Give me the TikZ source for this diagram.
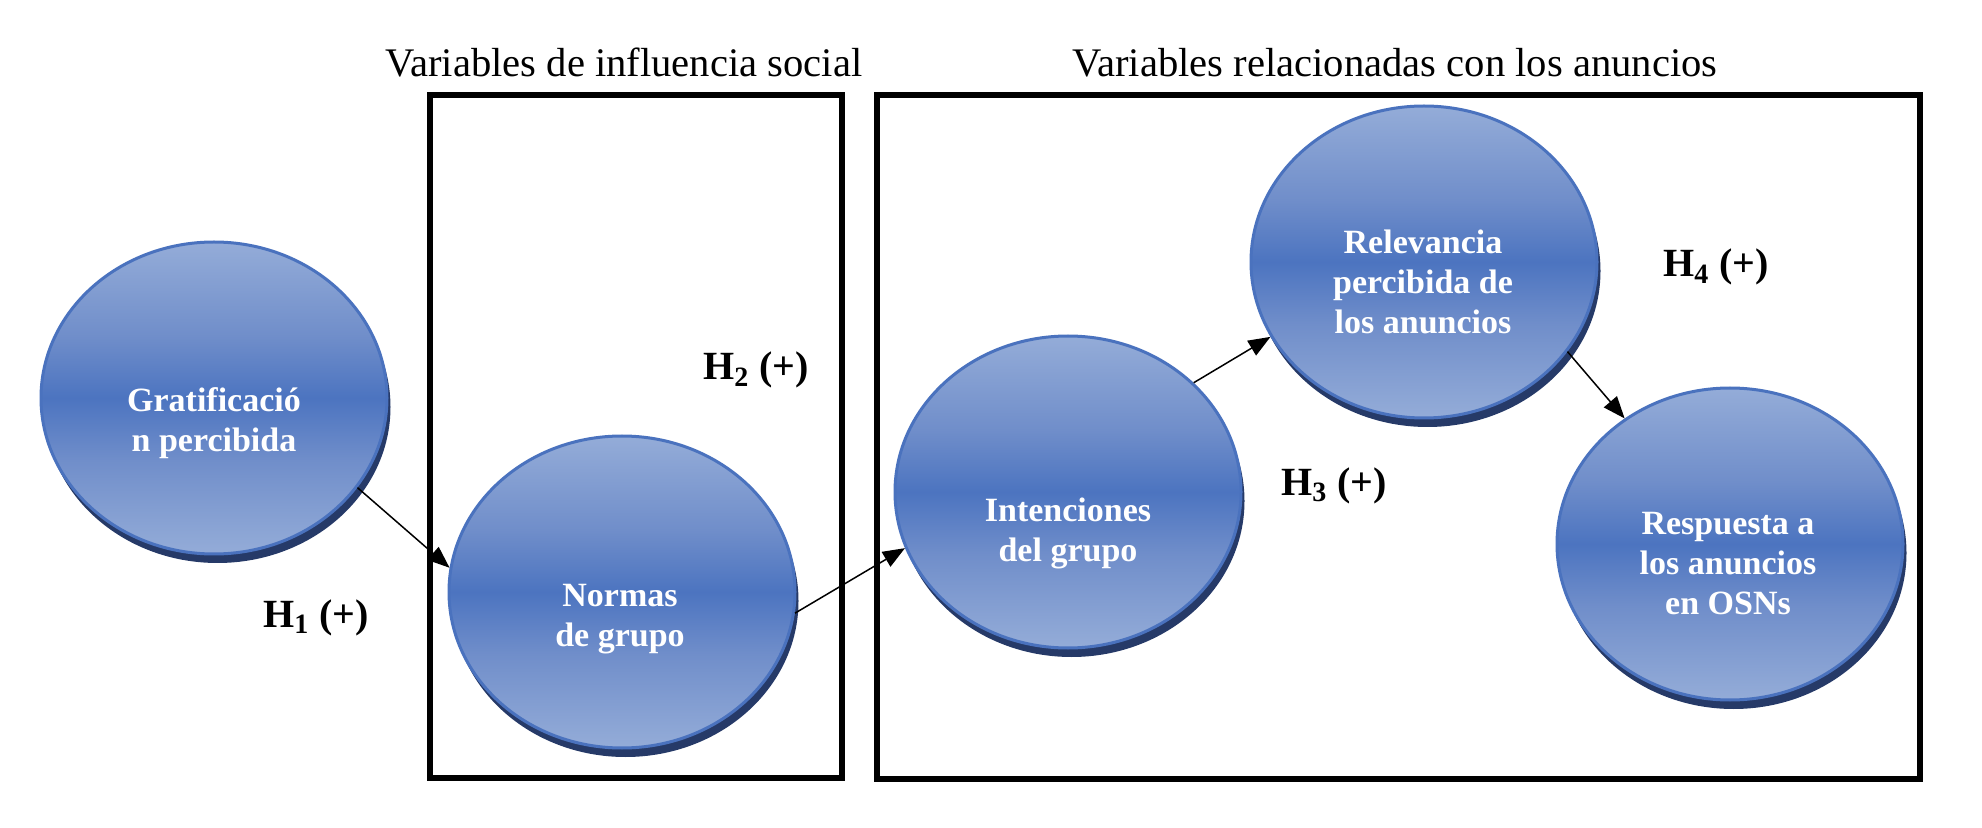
\documentclass[tikz,border=0pt]{standalone}
\usepackage{fontspec}
\setmainfont{Liberation Serif}
\usetikzlibrary{shapes.geometric,arrows.meta,shadows}
\definecolor{lb}{RGB}{148,172,216}
\definecolor{mb}{RGB}{112,142,202}
\definecolor{db}{RGB}{76,116,192}
\definecolor{bordc}{RGB}{74,114,190}
\definecolor{shadc}{RGB}{38,58,104}
\pgfdeclareverticalshading{ballshade}{100bp}{color(0bp)=(lb); color(25bp)=(lb); color(40bp)=(mb); color(50bp)=(db); color(60bp)=(mb); color(75bp)=(lb); color(100bp)=(lb)}
\tikzset{
 ball/.style={ellipse, draw=bordc, line width=1.5pt, shading=ballshade,
   minimum width=173pt, minimum height=156pt, inner sep=0pt,
   drop shadow={shadow xshift=1.75pt, shadow yshift=-4.5pt, fill=shadc, opacity=1}},
 balltext/.style={text=white, font=\bfseries\fontsize{17}{20}\selectfont, align=center, inner sep=0pt},
 hlab/.style={font=\bfseries\fontsize{20}{24}\selectfont, anchor=base, inner sep=0pt},
 ttl/.style={font=\fontsize{20.3}{24}\selectfont, anchor=base, inner sep=0pt},
 grpbox/.style={draw=black, line width=2.6pt, inner sep=0pt},
 conn/.style={-{Triangle[length=11pt,width=8.5pt]}, line width=0.75pt, black},
}
\begin{document}
\begin{tikzpicture}[x=0.5pt,y=-0.5pt]
\fill[white] (0,0) rectangle (1982,828);
\useasboundingbox (0,0) rectangle (1982,828);
% group boxes
\node[grpbox, minimum width=206pt, minimum height=341.5pt] (box1) at (636,436.5) {};
\node[grpbox, minimum width=521.5pt, minimum height=342pt] (box2) at (1398.5,437) {};
% titles
\node[ttl] (t1) at (624,77) {Variables de influencia social};
\node[ttl] (t2) at (1395,77) {Variables relacionadas con los anuncios};
% ellipses
\node[ball] (grat) at (214,398) {};
\node[ball] (norm) at (622,592) {};
\node[ball] (inten) at (1068,492) {};
\node[ball] (relev) at (1424,262) {};
\node[ball] (resp) at (1730,544) {};
% ellipse texts
\node[balltext] (gratt) at (214,423) {Gratificació\\n percibida};
\node[balltext] (normt) at (620,619) {Normas\\de grupo};
\node[balltext] (intent) at (1068,533) {Intenciones\\del grupo};
\node[balltext] (relevt) at (1423,282) {Relevancia\\percibida de\\los anuncios};
\node[balltext] (respt) at (1728,564) {Respuesta a\\los anuncios\\en OSNs};
% hypothesis labels
\node[hlab] (h1) at (316,627) {H\textsubscript{1} (+)};
\node[hlab] (h2) at (756,380) {H\textsubscript{2} (+)};
\node[hlab] (h3) at (1334,495) {H\textsubscript{3} (+)};
\node[hlab] (h4) at (1716,277) {H\textsubscript{4} (+)};
% connectors
\draw[conn] (grat.-32) -- (norm.172);
\draw[conn] (norm.-7) -- (inten.-161);
\draw[conn] (inten.41) -- (relev.-154.5);
\draw[conn] (relev.-32) -- (resp.130);
\end{tikzpicture}
\end{document}
